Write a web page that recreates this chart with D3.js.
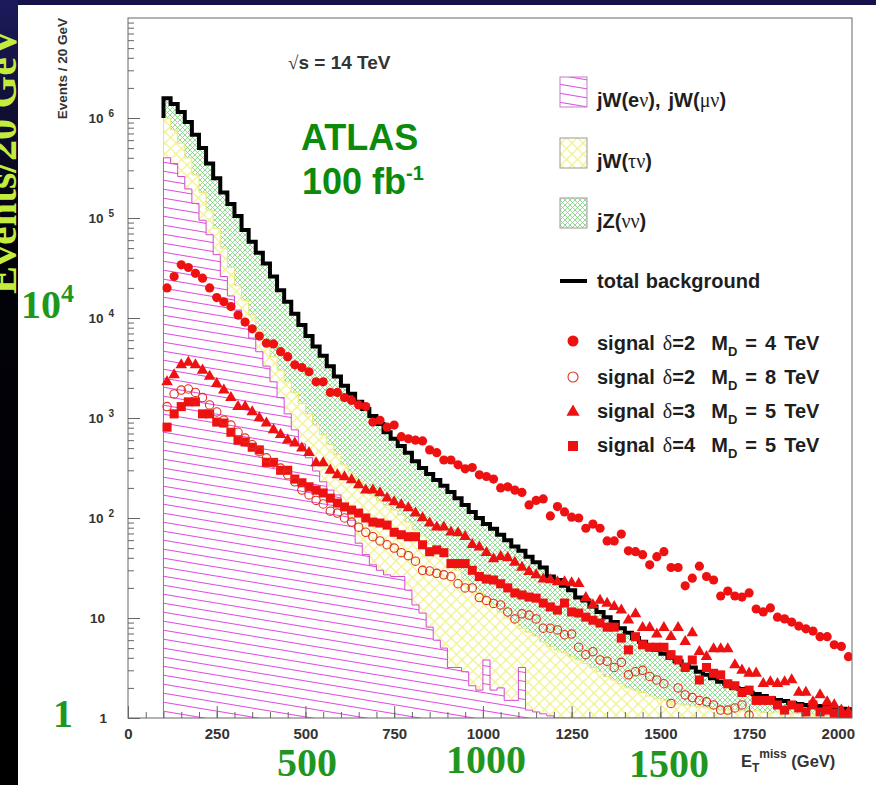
<!DOCTYPE html>
<html><head><meta charset="utf-8">
<script src="https://cdn.jsdelivr.net/npm/d3@7"></script>
<style>html,body{margin:0;padding:0;background:#fff;}svg{display:block;}text{white-space:pre;}</style>
</head><body>
<svg id="c" width="876" height="785"></svg>
<script>
// ---------- DATA ----------
const binStart = 100, binWidth = 20, nBins = 97;
// jW(e nu) + jW(mu nu)  (bottom of the stack)
const wEnuMunu = [4.0e5,3.5e5,2.6e5,1.95e5,1.4e5,9.5e4,6.8e4,4.3e4,2.6e4,1.66e4,
 1.2e4,8.5e3,6.3e3,4.6e3,3.3e3,2.3e3,1.6e3,1.1e3,760,550,
 400,295,230,190,170,135,95,56,43,34,
 30,27,26,26,19,13.5,11.2,8.1,6.0,5.0,
 3.2,3.2,2.9,2.1,1.9,3.8,1.9,2.0,1.5,1.5,
 3.2,1.2,1.15,1.1,1.05,0,0,0,0,0,
 0,0,0,0,0,0,0,0,0,0,
 0,0,0,0,0,0,0,0,0,0,
 0,0,0,0,0,0,0,0,0,0,
 0,0,0,0,0,0,0];
// stack height after adding jW(tau nu)
const wTauCum = [1.0e6,7.6e5,5.6e5,4.0e5,2.7e5,1.8e5,1.2e5,7.9e4,5.0e4,3.2e4,
 2.1e4,1.5e4,1.07e4,7.6e3,5.6e3,4.1e3,3.0e3,2.3e3,1.8e3,1.4e3,
 1.1e3,850,680,540,430,340,280,240,200,170,
 150,135,120,107,91,76,66,55,48,42,
 36,30,24,21,18,16,13.5,11.5,10,9.1,
 7.9,7.2,6.6,5.8,5.2,4.8,4.5,4.1,3.8,3.5,
 3.2,2.9,2.6,2.4,2.2,2.0,1.9,1.8,1.66,1.58,
 1.5,1.45,1.38,1.35,1.32,1.29,1.26,1.25,1.22,1.2,
 1.22,1.18,1.15,1.18,1.14,1.12,1.15,1.1,1.12,1.1,
 1.08,1.1,1.07,1.06,1.08,1.05,1.05];
// total background (stack top, incl. jZ(nu nu))
const bkgTotal = [1.58e6,1.38e6,1.15e6,9.1e5,6.8e5,5.0e5,3.5e5,2.5e5,1.8e5,1.38e5,
 1.05e5,7.6e4,5.8e4,4.5e4,3.5e4,2.6e4,1.9e4,1.45e4,1.1e4,8.5e3,
 6.6e3,5.2e3,4.2e3,3.3e3,2.6e3,2.1e3,1.75e3,1.45e3,1.23e3,1.05e3,
 870,720,620,525,450,370,316,275,240,210,
 182,158,135,115,100,87,78,68,60,52,
 47,41,36,32,26,24,21,19,16,15,
 13,11.5,10.2,9.1,7.9,7.1,6.3,5.8,5.2,4.8,
 4.4,4.0,3.7,3.4,3.2,2.9,2.7,2.5,2.3,2.2,
 2.0,1.95,1.8,1.74,1.66,1.58,1.51,1.48,1.41,1.38,
 1.35,1.32,1.32,1.29,1.26,1.24,1.22];
// signal delta=2 MD=4 TeV (filled circles)
const sigD2M4 = [2.0e4,2.6e4,3.4e4,3.2e4,2.8e4,2.5e4,2.0e4,1.6e4,1.45e4,1.3e4,
 1.07e4,9.1e3,7.8e3,6.6e3,5.6e3,5.5e3,4.6e3,4.1e3,3.4e3,3.2e3,
 2.9e3,2.3e3,2.3e3,1.8e3,1.8e3,1.6e3,1.5e3,1.35e3,1.3e3,910,
 950,810,850,650,620,600,590,480,450,380,
 380,340,310,320,270,260,245,200,205,190,
 180,135,150,155,105,130,115,102,100,79,
 87,79,59,59,69,47,46,43,34,41,
 46,32,32,21,25,33,26,24,16.6,18.6,
 16.6,16.2,17.8,12.3,11.5,12.6,10.2,9.8,9.1,8.3,
 7.8,7.4,6.5,6.5,5.4,5.2,4.1];
// signal delta=2 MD=8 TeV (open circles)
const sigD2M8 = [1.3e3,1.74e3,1.9e3,1.95e3,1.8e3,1.6e3,1.35e3,1.15e3,950,850,
 720,630,540,460,400,355,316,270,230,190,
 170,150,138,117,112,100,91,81,72,65,
 59,54,50,45,42,37,30,29.5,28,27,
 26,22,20,20,16,15,14,13.5,11.5,9.8,
 11,10.7,9.8,7.9,7.9,7.6,6.8,6.9,5.1,4.3,
 4.6,3.8,3.7,3.2,3.6,2.7,2.9,3.0,2.6,2.4,
 2.2,1.4,2.0,1.7,1.6,1.5,1.45,1.35,1.2,1.2,
 1.26,1.35,1.07,null,null,null,null,null,null,null,
 null,null,null,null,null,null,null];
// signal delta=3 MD=5 TeV (triangles)
const sigD3M5 = [2.3e3,2.7e3,3.4e3,3.6e3,3.4e3,3.0e3,2.6e3,2.2e3,1.9e3,1.6e3,
 1.3e3,1.3e3,1.15e3,1.0e3,890,760,680,600,560,500,
 450,355,355,300,270,257,240,214,190,190,
 178,158,145,135,126,112,100,89,81,81,
 72,71,65,54,51,45,39,41,40,36,
 32,29,27,24.5,24,23,23,22.4,22,16,
 13.5,15,14,13,12,9.5,11,8,8,6.9,
 8,6.5,8,5.8,7.1,4.6,4.1,4.9,4.9,4.9,
 3.4,3.0,2.8,2.8,2.2,2.3,2.2,2.3,2.4,1.8,
 1.8,1.45,1.7,1.45,1.35,1.2,1.15];
// signal delta=4 MD=5 TeV (filled squares)
const sigD4M5 = [810,1.1e3,1.3e3,1.45e3,1.45e3,1.1e3,1.1e3,910,890,720,
 600,575,510,480,360,360,300,300,245,225,
 205,190,178,158,141,129,120,112,100,91,
 89,85,72,68,65,65,54,46,48,45,
 35,35,35,30,26,24.5,24,22,20,17.8,
 17,16.2,15.8,14.1,12.9,12,14.1,11.5,11.2,10.2,
 9.5,8.9,8.1,8.1,6.3,4.8,6.5,5.4,5.1,5.1,
 5.1,4.3,3.8,3.2,3.8,2.4,3.2,2.8,2.7,2.2,
 2.1,1.8,1.9,1.5,1.5,1.5,1.35,1.2,1.35,1.26,
 1.15,1.35,1.15,1.2,1.12,1.07,1.05];
const xTickLabels = [0,250,500,750,1000,1250,1500,1750,2000];
const yDecades = [1,10,100,1e3,1e4,1e5,1e6];
const yDecadeExp = ["1","10","2","3","4","5","6"];

// ---------- SETUP ----------
const W = 876, H = 785;
const L = 128, R = 852, T = 18, B = 718;
const svg = d3.select("#c");
const x = d3.scaleLinear().domain([0, 2040]).range([L, R]);
const y = d3.scaleLog().domain([1, 1e7]).range([B, T]);
const edges = d3.range(nBins).map(i => binStart + i * binWidth);
const SANS = "Liberation Sans, Arial, Helvetica, sans-serif";
const SERIF = "Liberation Serif, Times New Roman, serif";

const defs = svg.append("defs");
const gr = defs.append("linearGradient").attr("id","strip").attr("x1",0).attr("y1",0).attr("x2",0).attr("y2",1);
gr.append("stop").attr("offset","0").attr("stop-color","#1b1b5c");
gr.append("stop").attr("offset","0.3").attr("stop-color","#02020a");
gr.append("stop").attr("offset","1").attr("stop-color","#000");
defs.append("clipPath").attr("id","plotclip").append("rect").attr("x",L).attr("y",T).attr("width",R-L).attr("height",B-T);
defs.append("clipPath").attr("id","stripclip").append("rect").attr("x",0).attr("y",5).attr("width",18).attr("height",H-5);

// hatch patterns
function pattern(id, w, h, lines, color, sw){
  const p = defs.append("pattern").attr("id",id).attr("patternUnits","userSpaceOnUse").attr("width",w).attr("height",h);
  p.append("rect").attr("width",w).attr("height",h).attr("fill","#fff");
  lines.forEach(l => p.append("line").attr("x1",l[0]).attr("y1",l[1]).attr("x2",l[2]).attr("y2",l[3]).attr("stroke",color).attr("stroke-width",sw));
}
pattern("pinkH", 54, 9, [[0,-9,54,0],[0,0,54,9],[0,9,54,18]], "#e050e0", 1.1);
pattern("yelH", 11, 11, [[0,0,11,11],[0,11,11,0],[-1,-1,1,1],[10,10,12,12],[-1,12,1,10],[10,1,12,-1]], "#f3f39a", 1.4);
pattern("grnH", 5, 5, [[0,0,5,5],[0,5,5,0]], "#7ed67e", 0.85);

// ---------- BACKGROUND ----------
svg.append("rect").attr("width",W).attr("height",H).attr("fill","#fff");
svg.append("rect").attr("x",0).attr("y",0).attr("width",W).attr("height",5).attr("fill","#13134a");
svg.append("rect").attr("x",0).attr("y",0).attr("width",18).attr("height",H).attr("fill","url(#strip)");
svg.append("g").attr("clip-path","url(#stripclip)").append("text")
  .attr("transform","translate(16,294) rotate(-90)")
  .attr("font-family",SERIF).attr("font-weight","bold").attr("font-size",42)
  .attr("fill","#c4ec3c").text("Events/20 GeV");

// ---------- HISTOGRAMS ----------
const plot = svg.append("g").attr("clip-path","url(#plotclip)");
function pts(arr){
  const p = arr.map((v,i)=>({e:edges[i], v:v}));
  p.push({e:edges[nBins-1]+binWidth, v:arr[nBins-1]});
  return p;
}
const area = d3.area().curve(d3.curveStepAfter).x(d=>x(d.e)).y0(y(1)).y1(d=>y(Math.max(1,d.v||1)));
const line = d3.line().curve(d3.curveStepAfter).x(d=>x(d.e)).y(d=>y(Math.max(1,d.v||1)));

const layers = [
  {arr:bkgTotal, fill:"url(#grnH)", stroke:"#6ccc6c"},
  {arr:wTauCum, fill:"url(#yelH)", stroke:"#e8e87c"},
  {arr:wEnuMunu, fill:"url(#pinkH)", stroke:"#d24ad2"}
];
layers.forEach(l=>{
  plot.append("path").attr("d", area(pts(l.arr))).attr("fill", l.fill);
});
layers.forEach(l=>{
  const p = [{e:binStart, v:1}].concat(pts(l.arr));
  plot.append("path").attr("d", line(p)).attr("fill","none").attr("stroke",l.stroke).attr("stroke-width",1);
});
// total background black line
const totPts = [{e:binStart, v:wTauCum[0]}].concat(pts(bkgTotal));
plot.append("path").attr("d", line(totPts)).attr("fill","none").attr("stroke","#000").attr("stroke-width",4).attr("stroke-linejoin","miter");

// ---------- SIGNAL MARKERS ----------
const RED = "#ee1111";
function markerData(arr){ return arr.map((v,i)=>({c:edges[i]+binWidth/2, v:v})).filter(d=>d.v!=null && d.v>=1); }
plot.append("g").selectAll("circle").data(markerData(sigD2M4)).join("circle")
  .attr("cx",d=>x(d.c)).attr("cy",d=>y(d.v)).attr("r",4.6).attr("fill",RED);
plot.append("g").selectAll("path").data(markerData(sigD3M5)).join("path")
  .attr("transform",d=>`translate(${x(d.c)},${y(d.v)})`).attr("d", d3.symbol(d3.symbolTriangle, 58)()).attr("fill",RED);
plot.append("g").selectAll("path").data(markerData(sigD4M5)).join("path")
  .attr("transform",d=>`translate(${x(d.c)},${y(d.v)})`).attr("d", d3.symbol(d3.symbolSquare, 82)()).attr("fill",RED);
plot.append("g").selectAll("circle").data(markerData(sigD2M8)).join("circle")
  .attr("cx",d=>x(d.c)).attr("cy",d=>y(d.v)).attr("r",4.2).attr("fill","none").attr("stroke","#e0301e").attr("stroke-width",1.1);

// ---------- AXES ----------
const AX = "#666";
svg.append("rect").attr("x",L).attr("y",T).attr("width",R-L).attr("height",B-T).attr("fill","none").attr("stroke",AX).attr("stroke-width",1);
const yMinor = [];
[1,10,100,1e3,1e4,1e5,1e6].forEach(d=>{ for(let k=2;k<=9;k++) yMinor.push(k*d); });
function styleAxis(g){ g.select(".domain").remove(); g.selectAll(".tick line").attr("stroke",AX); }
svg.append("g").attr("transform",`translate(${L},0)`).call(d3.axisLeft(y).tickValues(yDecades).tickSize(-12).tickFormat("")).call(styleAxis);
svg.append("g").attr("transform",`translate(${L},0)`).call(d3.axisLeft(y).tickValues(yMinor).tickSize(-6).tickFormat("")).call(styleAxis);
svg.append("g").attr("transform",`translate(0,${B})`).call(d3.axisBottom(x).tickValues(d3.range(0,2001,50)).tickSize(-6).tickFormat("")).call(styleAxis);
const xa = svg.append("g").attr("transform",`translate(0,${B})`).call(d3.axisBottom(x).tickValues(xTickLabels).tickSize(-12).tickPadding(10).tickFormat(d3.format("d"))).call(styleAxis);
xa.selectAll("text").attr("font-family",SANS).attr("font-weight","bold").attr("font-size",15).attr("fill","#333");

// y labels
yDecades.forEach((v,i)=>{
  const t = svg.append("text").attr("font-family",SANS).attr("font-weight","bold").attr("font-size",13.5).attr("fill","#333")
    .attr("y", y(v)+5).attr("text-anchor","end");
  if (i===0){ t.attr("x",107).text("1"); }
  else if (i===1){ t.attr("x",105).text("10"); }
  else { t.attr("x",114); t.append("tspan").text("10"); t.append("tspan").attr("dx",5).attr("dy",-6).attr("font-size",10).text(yDecadeExp[i]); }
});

// axis titles
svg.append("text").attr("transform","translate(67,18) rotate(-90)").attr("text-anchor","end")
  .attr("font-family",SANS).attr("font-weight","bold").attr("font-size",13.5).attr("fill","#333").text("Events / 20 GeV");

function rich(x0, y0, parts, size, color, ws){
  const t = svg.append("text").attr("x",x0).attr("y",y0).attr("font-size",size).attr("fill",color)
    .attr("font-family",SANS).attr("font-weight","bold");
  if (ws) t.attr("word-spacing", ws);
  let off = 0;
  parts.forEach(p=>{
    const s = t.append("tspan").text(p.t);
    const target = p.dy || 0;
    if (target !== off) s.attr("dy", target - off);
    off = target;
    if (p.g) s.attr("font-family",SERIF).attr("font-weight","normal");
    if (p.fs) s.attr("font-size",p.fs);
  });
  return t;
}
rich(741, 767, [{t:"E"},{t:"T",fs:12,dy:5},{t:"miss",fs:12,dy:-9},{t:" (GeV)"}], 16.5, "#333");

// ---------- ANNOTATIONS ----------
rich(288, 69, [{t:"√",g:true},{t:"s = 14 TeV"}], 19, "#333");
svg.append("text").attr("x",301).attr("y",150).attr("font-family",SANS).attr("font-weight","bold").attr("font-size",36).attr("fill","#0b8a0b").text("ATLAS");
rich(302, 194, [{t:"100 fb"},{t:"-1",fs:20,dy:-14}], 36, "#0b8a0b");

// ---------- LEGEND ----------
const lx = 560, tx = 597, TXT = "#1e1e1e";
[[77,"url(#pinkH)","#c77ac7"],[138,"url(#yelH)","#9a9a9a"],[198,"url(#grnH)","#9a9a9a"]].forEach(b=>{
  svg.append("rect").attr("x",lx).attr("y",b[0]).attr("width",27).attr("height",30).attr("fill",b[1]).attr("stroke",b[2]).attr("stroke-width",1);
});
rich(tx, 107, [{t:"jW("},{t:"e"},{t:"ν",g:true},{t:"), jW("},{t:"μν",g:true},{t:")"}], 20, TXT, 2.5);
rich(tx, 168, [{t:"jW("},{t:"τν",g:true},{t:")"}], 20, TXT);
rich(tx, 228, [{t:"jZ("},{t:"νν",g:true},{t:")"}], 20, TXT);
svg.append("line").attr("x1",lx).attr("x2",lx+27).attr("y1",281).attr("y2",281).attr("stroke","#000").attr("stroke-width",4);
rich(tx, 288, [{t:"total background"}], 20, TXT, 1);
const sigRows = [
  {yb:350, d:"2", m:"4"},{yb:384, d:"2", m:"8"},{yb:418, d:"3", m:"5"},{yb:452, d:"4", m:"5"}
];
sigRows.forEach(r=>{
  rich(tx, r.yb, [{t:"signal "},{t:"δ",g:true},{t:"="+r.d+"  M"},{t:"D",fs:13,dy:6},{t:" = "+r.m+" TeV"}], 20, TXT, 2.5);
});
const mx = 573;
svg.append("circle").attr("cx",mx).attr("cy",341).attr("r",5.5).attr("fill",RED);
svg.append("circle").attr("cx",mx).attr("cy",377).attr("r",5).attr("fill","none").attr("stroke","#e0301e").attr("stroke-width",1.1);
svg.append("path").attr("transform",`translate(${mx},${412})`).attr("d",d3.symbol(d3.symbolTriangle,75)()).attr("fill",RED);
svg.append("path").attr("transform",`translate(${mx},${446})`).attr("d",d3.symbol(d3.symbolSquare,100)()).attr("fill",RED);

// ---------- SLIDE OVERLAY LABELS ----------
const GRN = "#1f971f";
function big(x0, y0, s, sup){
  const t = svg.append("text").attr("x",x0).attr("y",y0).attr("font-family",SERIF).attr("font-weight","bold").attr("font-size",40).attr("fill",GRN).text(s);
  if (sup) t.append("tspan").attr("dy",-16).attr("font-size",26).text(sup);
}
big(21, 318, "10", "4");
big(53, 727, "1");
big(277, 776, "500");
big(446, 773, "1000");
big(629, 777, "1500");
</script>
</body></html>
